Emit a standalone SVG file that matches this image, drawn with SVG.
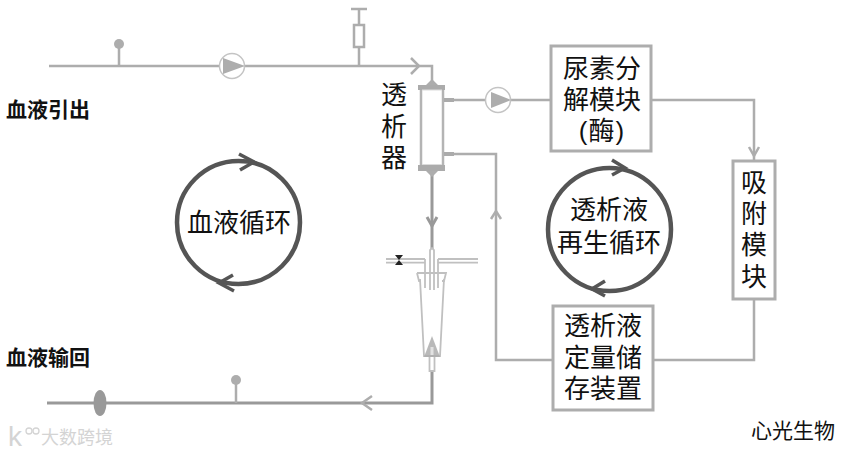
<svg xmlns="http://www.w3.org/2000/svg" width="847" height="454" viewBox="0 0 847 454">
<style>
text{font-family:"Liberation Sans","Noto Sans CJK SC",sans-serif;fill:#111;text-anchor:middle}
.t{font-size:26px}
.b{font-size:21px;font-weight:700;text-anchor:start}
.l{fill:none;stroke:#adadad;stroke-width:2.500}
.d{fill:none;stroke:#999;stroke-width:3}
.m{fill:none;stroke:#c0c0c0;stroke-width:1.800}
.f{fill:#adadad;stroke:none}
.box{fill:#fff;stroke:#adadad;stroke-width:3}
.ring{fill:none;stroke:#555;stroke-width:4.500}
.ah{fill:none;stroke:#555;stroke-width:3.500}
</style>
<rect width="847" height="454" fill="#fff"/>
<g id="connectors">
<path class="l" d="M49 66H432V84"/>
<path class="l" d="M411 58L419 66L411 74"/>
<path class="l" d="M119 66V44M359 66V47M359 25V9"/>
<path class="l" d="M445 100H550M445 154H496V360H553"/>
<path class="l" d="M651 100H754V161M654 360H754V300"/>
<path class="l" d="M749 147L754 156L759 147"/>
<path class="l" d="M491 219L496 211L501 219"/>
<path class="d" d="M432 172V249M432 371V403H47"/>
<path class="d" d="M427 217L432 226L437 217"/>
<path class="l" d="M372 396L362 403L372 410"/>
<path class="l" d="M236 403V381"/>
</g>
<g id="sensor-1"><circle class="f" cx="119" cy="44" r="5"/></g>
<g id="sensor-2"><circle class="f" cx="236" cy="380" r="5"/></g>
<g id="pump-1"><circle cx="232" cy="66" r="12.500" fill="#fff" stroke="#c4c4c4" stroke-width="1.500"/><path class="f" d="M223 58L245 66L223 74Z"/></g>
<g id="pump-2"><circle cx="498" cy="100" r="12.500" fill="#fff" stroke="#c4c4c4" stroke-width="1.500"/><path class="f" d="M491 92L511 100L491 108Z"/></g>
<g id="syringe"><path class="l" d="M351 9H367"/><rect x="354" y="25" width="10" height="22" fill="#fff" stroke="#adadad" stroke-width="2.500"/></g>
<g id="clamp"><ellipse cx="100" cy="403" rx="6.500" ry="13" fill="#999"/></g>
<g id="dialyzer">
<rect x="421" y="87" width="22" height="82" fill="#fff" stroke="#b4b4b4" stroke-width="2.500"/>
<rect x="418" y="85" width="27" height="5" fill="#ababab"/>
<rect x="418" y="165" width="27" height="6" fill="#ababab"/>
<path d="M422 90H442" stroke="#dcdcdc" stroke-width="1"/>
<path d="M422 164.500H442" stroke="#dcdcdc" stroke-width="1"/>
<path class="f" d="M426 85L432 79L438 85ZM426 171L432 177L438 171Z"/>
<rect x="444" y="98" width="10" height="4" fill="#ababab"/>
<rect x="444" y="152" width="10" height="4" fill="#ababab"/>
</g>
<g id="drip-chamber">
<path class="m" d="M386 259H425M386 262.700H425M438 259H478M438 262.700H478"/>
<path fill="#222" d="M395 255H403L399 260ZM395 265H403L399 260Z"/>
<path class="m" d="M430 290V250L432 248L434 250V290"/>
<path class="m" d="M425 259V288M438 259V288"/>
<path class="m" d="M417 273H446L444 281H442M417 273L419 281H421"/>
<path class="m" d="M420 279L424 356H440L444 279"/>
<path class="f" d="M432 336L424 357H440L432 336Z" fill-opacity=".85"/>
<path d="M430.500 347H433.500V355H430.500Z" fill="#e2e2e2"/>
<path class="m" d="M429.500 357V371H434.500V357"/>
</g>
<g id="ring-blood">
<circle class="ring" cx="238.500" cy="222.500" r="61.500"/>
<path class="ah" d="M239 154L254 162L240 170"/>
<path class="ah" d="M233 275L219 283L234 291"/>
<text class="t" x="239" y="232">血液循环</text>
</g>
<g id="ring-dialysate">
<circle class="ring" cx="609.500" cy="229.500" r="61.500"/>
<path class="ah" d="M612 160L625 168L612 175"/>
<path class="ah" d="M605 281L592 289L605 296"/>
<text class="t" x="609" y="219">透析液</text>
<text class="t" x="609" y="252">再生循环</text>
</g>
<g id="urea-module">
<rect class="box" x="551" y="46" width="100" height="105"/>
<text class="t" x="602" y="78">尿素分</text>
<text class="t" x="602" y="109">解模块</text>
<text class="t" x="602" y="140" letter-spacing="1">(酶)</text>
</g>
<g id="adsorb-module">
<rect class="box" x="733" y="161" width="42" height="138"/>
<text class="t" x="754" y="192">吸</text>
<text class="t" x="754" y="223">附</text>
<text class="t" x="754" y="254">模</text>
<text class="t" x="754" y="286">块</text>
</g>
<g id="storage-module">
<rect class="box" x="553" y="306" width="100" height="104"/>
<text class="t" x="603" y="335">透析液</text>
<text class="t" x="603" y="367">定量储</text>
<text class="t" x="603" y="398">存装置</text>
</g>
<g id="labels">
<text class="t" x="394" y="104">透</text>
<text class="t" x="394" y="136">析</text>
<text class="t" x="394" y="167">器</text>
<text class="b" x="6" y="117">血液引出</text>
<text class="b" x="6" y="365">血液输回</text>
<text x="793" y="438" style="font-size:21px">心光生物</text>
<text x="77" y="444" style="font-size:18px;fill:#d4d4d4">大数跨境</text>
<text x="15" y="446" style="font-size:28px;fill:#d4d4d4">k</text>
<circle cx="29" cy="431" r="3" fill="none" stroke="#d4d4d4" stroke-width="1.300"/>
<circle cx="36" cy="431" r="3" fill="none" stroke="#d4d4d4" stroke-width="1.300"/>
</g>
</svg>
